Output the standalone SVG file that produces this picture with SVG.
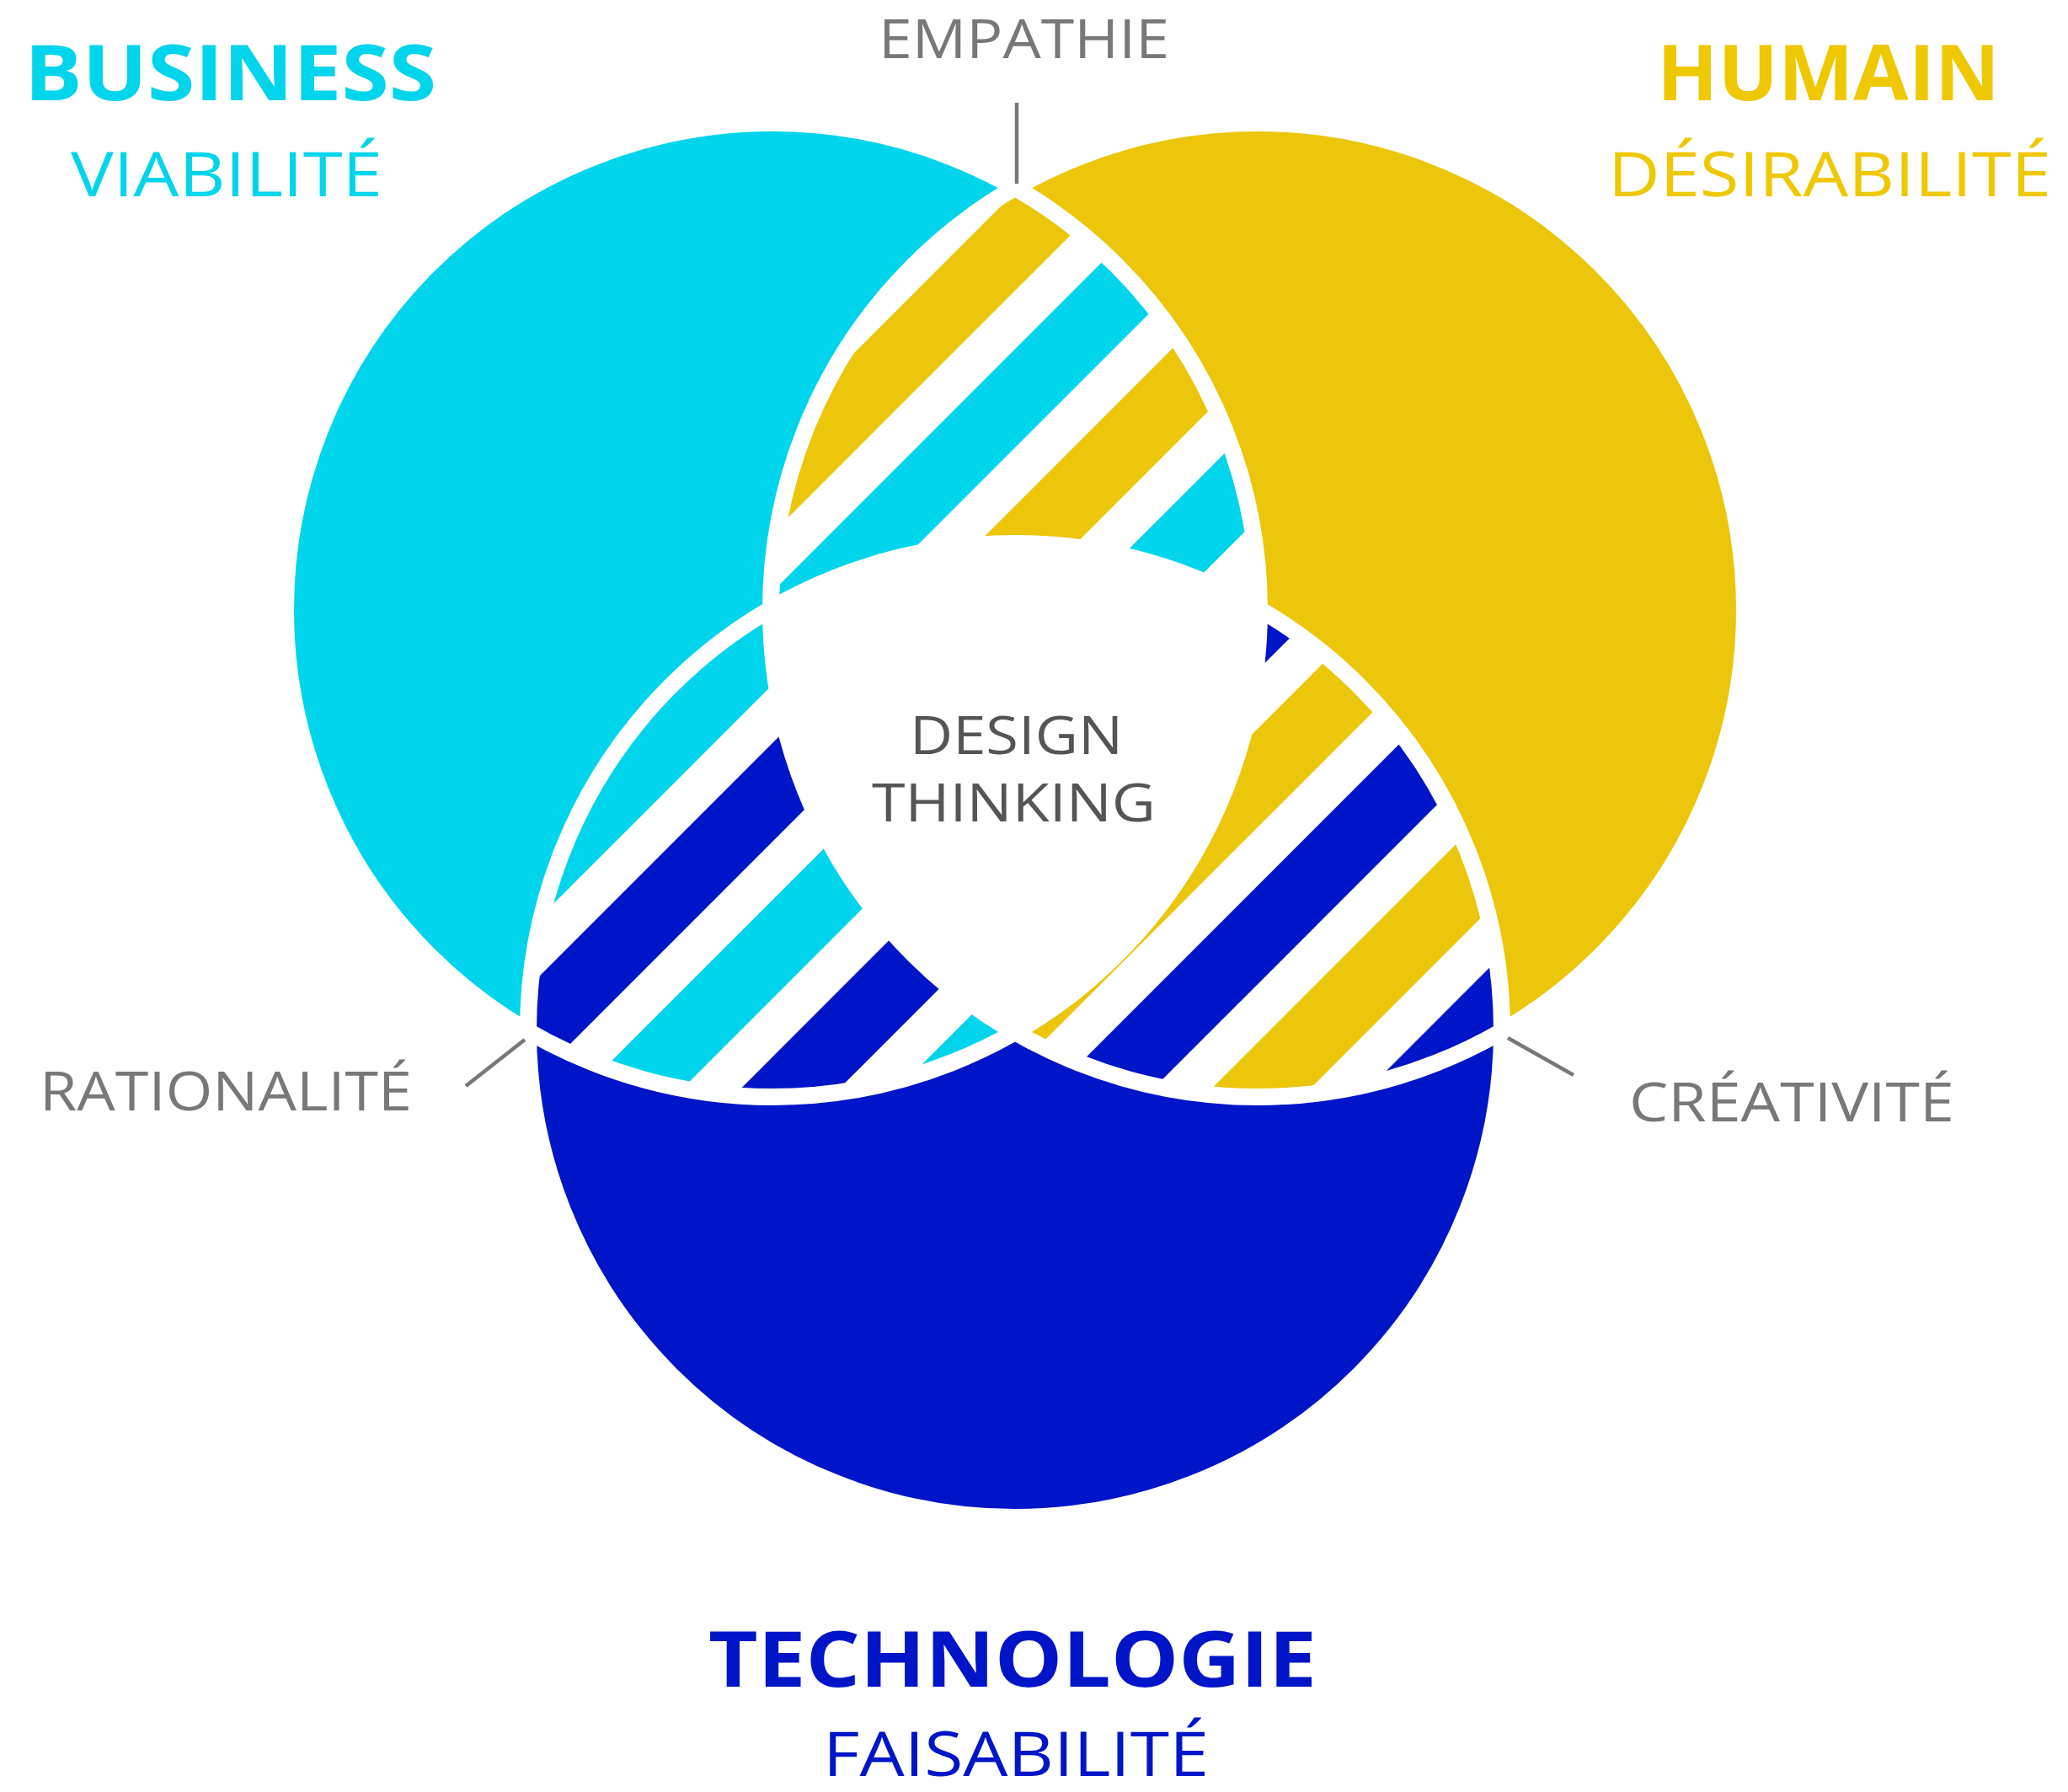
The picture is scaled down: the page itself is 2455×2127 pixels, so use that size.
<svg xmlns="http://www.w3.org/2000/svg" width="2455" height="2127" viewBox="0 0 2455 2127">
  <style>
    .cy { stroke: #00D5EB; }
    .ye { stroke: #EBC60A; }
    .bl { stroke: #0015C8; }
    .stripe { stroke-width: 82.7; fill: none; }
    .ring { fill: none; stroke: #FFFFFF; stroke-width: 20; }
    .tick { stroke: #787878; stroke-width: 4.5; fill: none; }
    .head { font-family: "Open Sans", "Liberation Sans", sans-serif; font-weight: 700; font-size: 92px; }
    .sub { font-family: "Open Sans", "Liberation Sans", sans-serif; font-weight: 400; font-size: 74px; }
    .note { font-family: "Open Sans", "Liberation Sans", sans-serif; font-weight: 400; font-size: 64px; fill: #787878; }
    .center { font-family: "Open Sans", "Liberation Sans", sans-serif; font-weight: 400; font-size: 63px; fill: #555555; }
  </style>
  <defs>
    <clipPath id="cpC"><circle cx="917" cy="724" r="578"/></clipPath>
    <clipPath id="cpY"><circle cx="1493" cy="724" r="578"/></clipPath>
    <clipPath id="cpB"><circle cx="1205" cy="1223" r="578"/></clipPath>
  </defs>
  <rect x="0" y="0" width="2455" height="2127" fill="#FFFFFF"/>

  <g id="business">
    <circle cx="917" cy="724" r="578" fill="#00D5EB"/>
  </g>
  <g id="humain">
    <circle cx="1493" cy="724" r="578" fill="#EBC60A"/>
  </g>
  <g id="technologie">
    <circle cx="1205" cy="1223" r="578" fill="#0015C8"/>
  </g>

  <g id="lens-business-humain" clip-path="url(#cpC)">
    <g clip-path="url(#cpY)">
      <rect x="0" y="0" width="2455" height="2127" fill="#FFFFFF"/>
      <line class="stripe ye" x1="1591.4" y1="-100" x2="-808.6" y2="2300"/>
      <line class="stripe cy" x1="1777.7" y1="-100" x2="-622.3" y2="2300"/>
      <line class="stripe ye" x1="1964" y1="-100" x2="-436" y2="2300"/>
      <line class="stripe cy" x1="2150.3" y1="-100" x2="-249.7" y2="2300"/>
    </g>
  </g>

  <g id="lens-business-technologie" clip-path="url(#cpC)">
    <g clip-path="url(#cpB)">
      <rect x="0" y="0" width="2455" height="2127" fill="#FFFFFF"/>
      <line class="stripe cy" x1="1771.2" y1="-100" x2="-628.8" y2="2300"/>
      <line class="stripe bl" x1="1957.5" y1="-100" x2="-442.5" y2="2300"/>
      <line class="stripe cy" x1="2143.8" y1="-100" x2="-256.2" y2="2300"/>
      <line class="stripe bl" x1="2330.1" y1="-100" x2="-69.9" y2="2300"/>
      <line class="stripe cy" x1="2516.4" y1="-100" x2="116.4" y2="2300"/>
    </g>
  </g>

  <g id="lens-humain-technologie" clip-path="url(#cpY)">
    <g clip-path="url(#cpB)">
      <rect x="0" y="0" width="2455" height="2127" fill="#FFFFFF"/>
      <line class="stripe bl" x1="2330.1" y1="-100" x2="-69.9" y2="2300"/>
      <line class="stripe ye" x1="2516.4" y1="-100" x2="116.4" y2="2300"/>
      <line class="stripe bl" x1="2702.7" y1="-100" x2="302.7" y2="2300"/>
      <line class="stripe ye" x1="2889" y1="-100" x2="489" y2="2300"/>
      <line class="stripe bl" x1="3075.3" y1="-100" x2="675.3" y2="2300"/>
    </g>
  </g>

  <g id="design-thinking">
    <g clip-path="url(#cpC)">
      <g clip-path="url(#cpY)">
        <g clip-path="url(#cpB)">
          <rect x="0" y="0" width="2455" height="2127" fill="#FFFFFF"/>
        </g>
      </g>
    </g>
    <text class="center" x="1080" y="895" textLength="253" lengthAdjust="spacingAndGlyphs">DESIGN</text>
    <text class="center" x="1035" y="975" textLength="337" lengthAdjust="spacingAndGlyphs">THINKING</text>
  </g>

  <g id="outlines">
    <circle class="ring" cx="917" cy="724" r="578"/>
    <circle class="ring" cx="1493" cy="724" r="578"/>
    <circle class="ring" cx="1205" cy="1223" r="578"/>
  </g>

  <g id="connectors">
    <line class="tick" x1="1207" y1="122" x2="1207" y2="218"/>
    <line class="tick" x1="553" y1="1289" x2="623" y2="1234"/>
    <line class="tick" x1="1790" y1="1232" x2="1868" y2="1276"/>
  </g>

  <g id="labels">
    <text class="head" x="29" y="119" fill="#00D5EB" textLength="489" lengthAdjust="spacingAndGlyphs">BUSINESS</text>
    <text class="sub" x="84" y="233" fill="#00D5EB" textLength="370" lengthAdjust="spacingAndGlyphs">VIABILITÉ</text>
    <text class="head" x="1967" y="119" fill="#EEC800" textLength="407" lengthAdjust="spacingAndGlyphs">HUMAIN</text>
    <text class="sub" x="1909" y="233" fill="#EEC800" textLength="526" lengthAdjust="spacingAndGlyphs">DÉSIRABILITÉ</text>
    <text class="head" x="841" y="2002" fill="#0015C8" textLength="722" lengthAdjust="spacingAndGlyphs">TECHNOLOGIE</text>
    <text class="sub" x="977" y="2108" fill="#0015C8" font-size="72" textLength="458" lengthAdjust="spacingAndGlyphs">FAISABILITÉ</text>
    <text class="note" x="1043" y="69" textLength="345" lengthAdjust="spacingAndGlyphs">EMPATHIE</text>
    <text class="note" x="47" y="1318" textLength="442" lengthAdjust="spacingAndGlyphs">RATIONALITÉ</text>
    <text class="note" x="1934" y="1331" textLength="386" lengthAdjust="spacingAndGlyphs">CRÉATIVITÉ</text>
  </g>
</svg>
